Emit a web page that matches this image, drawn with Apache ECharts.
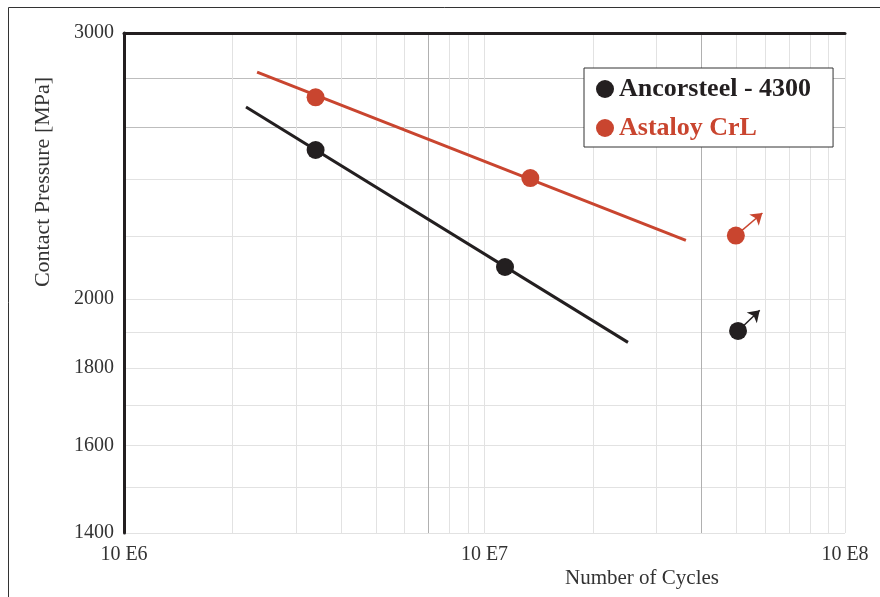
<!DOCTYPE html>
<html><head><meta charset="utf-8">
<script src="https://cdn.jsdelivr.net/npm/echarts@6/dist/echarts.min.js"></script>
<style>html,body{margin:0;padding:0;background:#fff}#c{width:880px;height:597px}</style>
</head><body><div id="c"></div>
<script>
// ---- data ----
const ancorName = 'Ancorsteel - 4300';
const astName = 'Astaloy CrL';
const ancorTestCycles = [3.4e6, 1.14e7];
const ancorTestPressure = [2510, 2100];
const ancorFitCycles = [2.18e6, 2.5e7];
const ancorFitPressure = [2680, 1872];
const ancorRunoutCycles = [5.05e7];
const ancorRunoutPressure = [1905];
const ancorArrowTip = [5.8e7, 1966];

const astTestCycles = [3.4e6, 1.34e7];
const astTestPressure = [2720, 2405];
const astFitCycles = [2.34e6, 3.62e7];
const astFitPressure = [2826, 2187];
const astRunoutCycles = [4.98e7];
const astRunoutPressure = [2203];
const astArrowTip = [5.9e7, 2280];

const xTickValues = [1e6, 1e7, 1e8];
const xGridLight = [2e6, 3e6, 4e6, 5e6, 6e6, 8e6, 9e6, 1e7, 2e7, 3e7, 5e7, 6e7, 7e7, 8e7, 9e7, 1e8];
const xGridDark = [7e6, 4e7];
const yTickLabels = [1400, 1600, 1800, 2000, 3000];
const yGridLight = [1400, 1500, 1600, 1700, 1800, 1900, 2000, 2200, 2400];
const yGridDark = [2600, 2800];

// ---- build chart ----
const RED = '#c9452f', BLACK = '#231f20';
const FONT = 'Liberation Serif';
const zip = (a, b) => a.map((v, i) => [v, b[i]]);

const yLines = yGridLight.map(v => ({ v, c: '#e2e2e2' }))
  .concat(yGridDark.map(v => ({ v, c: '#bdbdbd' })))
  .concat([{ v: 3000, c: 'rgba(0,0,0,0)' }]);
const gridMark = yLines.map(o => ({
  yAxis: o.v,
  lineStyle: { color: o.c, width: 1, type: 'solid' },
  label: yTickLabels.includes(o.v)
    ? { show: true, position: 'start', distance: 10, formatter: String(o.v), color: '#333', fontSize: 20, fontFamily: FONT }
    : { show: false }
})).concat(xGridLight.map(v => ({ xAxis: v, lineStyle: { color: '#e2e2e2', width: 1, type: 'solid' }, label: { show: false } })))
  .concat(xGridDark.map(v => ({ xAxis: v, lineStyle: { color: '#b0b0b0', width: 1, type: 'solid' }, label: { show: false } })));

const chart = echarts.init(document.getElementById('c'), null, { renderer: 'canvas' });
chart.setOption({
  animation: false,
  backgroundColor: '#fff',
  grid: { left: 124, right: 35, top: 33, bottom: 64, containLabel: false },
  xAxis: [{
    type: 'log', logBase: 10, min: 1e6, max: 1e8, position: 'bottom',
    axisLine: { show: false },
    axisTick: { show: false },
    splitLine: { show: false },
    axisLabel: { show: true, margin: 12, color: '#333', fontSize: 20, fontFamily: FONT,
      formatter: v => xTickValues.some(t => Math.abs(t - v) / t < 1e-6) ? '10 E' + Math.round(Math.log10(v)) : '' }
  }, {
    type: 'log', logBase: 10, min: 1e6, max: 1e8, position: 'top', z: 10,
    axisLine: { show: true, onZero: false, lineStyle: { color: BLACK, width: 3 } },
    axisTick: { show: false }, axisLabel: { show: false }, splitLine: { show: false }
  }],
  yAxis: {
    type: 'log', logBase: 10, min: 1400, max: 3000, z: 10,
    axisLine: { show: true, onZero: false, lineStyle: { color: BLACK, width: 3 } },
    axisTick: { show: false }, axisLabel: { show: false }, splitLine: { show: false }
  },
  legend: {
    data: [{ name: ancorName, textStyle: { color: BLACK } }, { name: astName, textStyle: { color: RED } }],
    left: 584, top: 68, orient: 'vertical', icon: 'circle', z: 20,
    itemWidth: 18, itemHeight: 18, itemGap: 13,
    padding: [8, 22, 6, 12],
    borderColor: '#333', borderWidth: 1, backgroundColor: '#fff',
    textStyle: { fontFamily: FONT, fontWeight: 'bold', fontSize: 26 }
  },
  series: [
    { name: 'grid', type: 'line', z: 1, data: [[1e6, 1400]], showSymbol: false, symbol: 'none', silent: true,
      lineStyle: { width: 0 },
      markLine: { silent: true, z: 1, symbol: ['none', 'none'], animation: false, data: gridMark } },
    { name: 'ancorFit', type: 'line', z: 3, data: zip(ancorFitCycles, ancorFitPressure), showSymbol: false, symbol: 'none',
      lineStyle: { color: BLACK, width: 3 } },
    { name: 'astFit', type: 'line', z: 3, data: zip(astFitCycles, astFitPressure), showSymbol: false, symbol: 'none',
      lineStyle: { color: RED, width: 3 } },
    { name: ancorName, type: 'scatter', z: 6, symbol: 'circle', symbolSize: 18,
      itemStyle: { color: BLACK, opacity: 1 },
      data: zip(ancorTestCycles, ancorTestPressure).concat(zip(ancorRunoutCycles, ancorRunoutPressure)),
      markLine: { silent: true, z: 5, symbol: ['none', 'arrow'], symbolSize: 11, animation: false,
        lineStyle: { color: BLACK, width: 1.5, type: 'solid' }, label: { show: false },
        data: [[{ coord: [ancorRunoutCycles[0], ancorRunoutPressure[0]] }, { coord: ancorArrowTip }]] } },
    { name: astName, type: 'scatter', z: 6, symbol: 'circle', symbolSize: 18,
      itemStyle: { color: RED, opacity: 1 },
      data: zip(astTestCycles, astTestPressure).concat(zip(astRunoutCycles, astRunoutPressure)),
      markLine: { silent: true, z: 5, symbol: ['none', 'arrow'], symbolSize: 11, animation: false,
        lineStyle: { color: RED, width: 1.5, type: 'solid' }, label: { show: false },
        data: [[{ coord: [astRunoutCycles[0], astRunoutPressure[0]] }, { coord: astArrowTip }]] } }
  ],
  graphic: [
    { type: 'line', shape: { x1: 8.5, y1: 7.5, x2: 8.5, y2: 597 }, style: { stroke: '#333', lineWidth: 1 } },
    { type: 'line', shape: { x1: 8.5, y1: 7.5, x2: 880, y2: 7.5 }, style: { stroke: '#333', lineWidth: 1 } },
    { type: 'text', x: 43, y: 182, rotation: Math.PI / 2,
      style: { text: 'Contact Pressure [MPa]', fill: '#333', font: '22px "Liberation Serif"', textAlign: 'center', textVerticalAlign: 'middle' } },
    { type: 'text', x: 642, y: 578,
      style: { text: 'Number of Cycles', fill: '#333', font: '21px "Liberation Serif"', textAlign: 'center', textVerticalAlign: 'middle' } }
  ]
});
</script>
</body></html>
